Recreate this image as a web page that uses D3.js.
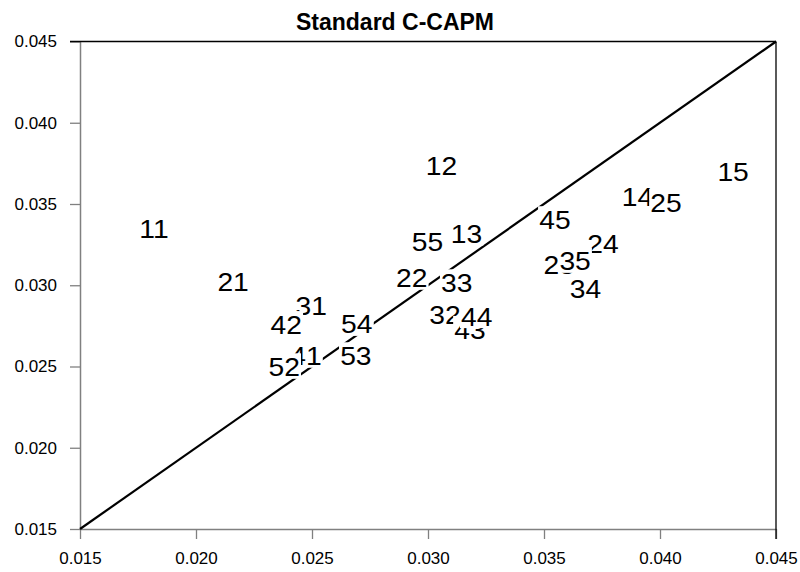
<!DOCTYPE html>
<html>
<head>
<meta charset="utf-8">
<script src="https://cdn.jsdelivr.net/npm/d3@7"></script>
<style>
  body { margin: 0; background: #fff; }
  svg { display: block; font-family: "Liberation Sans", Arial, sans-serif; }
</style>
</head>
<body>
<div id="chart"></div>
<script>
// portfolio labels with their (x, y) positions
const labels = ["11", "12", "13", "14", "15",
                "21", "22", "23", "24", "25",
                "31", "32", "33", "34", "35",
                "41", "42", "43", "44", "45",
                "52", "53", "54", "55"];
const xVals = [0.01819, 0.03058, 0.03166, 0.03903, 0.04315,
               0.02160, 0.02930, 0.03565, 0.03754, 0.04026,
               0.02497, 0.03073, 0.03124, 0.03679, 0.03634,
               0.02474, 0.02389, 0.03181, 0.03210, 0.03547,
               0.02380, 0.02689, 0.02693, 0.02998];
const yVals = [0.03349, 0.03734, 0.03315, 0.03546, 0.03694,
               0.03017, 0.03043, 0.03122, 0.03256, 0.03506,
               0.02874, 0.02820, 0.03012, 0.02978, 0.03147,
               0.02563, 0.02755, 0.02725, 0.02807, 0.03400,
               0.02495, 0.02563, 0.02759, 0.03268];
const tickVals = [0.015, 0.020, 0.025, 0.030, 0.035, 0.040, 0.045];
const tickLabels = ["0.015", "0.020", "0.025", "0.030", "0.035", "0.040", "0.045"];
const diagonal = [0.015, 0.045];

const width = 800;
const height = 572;
const mLeft = 80, mRight = 776, mTop = 41.5, mBottom = 529;

const x = d3.scaleLinear().domain([0.015, 0.045]).range([mLeft, mRight]);
const y = d3.scaleLinear().domain([0.015, 0.045]).range([mBottom, mTop]);

const svg = d3.select("#chart")
  .append("svg")
  .attr("width", width)
  .attr("height", height);

svg.append("text")
  .attr("x", 395)
  .attr("y", 30)
  .attr("text-anchor", "middle")
  .attr("font-size", 23)
  .attr("font-weight", "bold")
  .text("Standard C-CAPM");

const fmt = d => tickLabels[tickVals.indexOf(d)];

const gx = svg.append("g")
  .attr("transform", `translate(0,${mBottom})`)
  .call(d3.axisBottom(x).tickValues(tickVals).tickFormat(fmt)
    .tickSize(10).tickSizeOuter(0).tickPadding(13));

const gy = svg.append("g")
  .attr("transform", `translate(${mLeft},0)`)
  .call(d3.axisLeft(y).tickValues(tickVals).tickFormat(fmt)
    .tickSize(10).tickSizeOuter(0).tickPadding(13));

[gx, gy].forEach(g => {
  g.select(".domain").attr("stroke", "#808080").attr("stroke-width", 1.5);
  g.selectAll(".tick line").attr("stroke", "#808080").attr("stroke-width", 1.3);
  g.selectAll(".tick text")
    .attr("fill", "#000")
    .attr("font-size", 17)
    .attr("font-family", "'Liberation Sans', Arial, sans-serif");
});

// frame on top and right
svg.append("line")
  .attr("x1", mLeft - 10).attr("x2", mRight)
  .attr("y1", mTop).attr("y2", mTop)
  .attr("stroke", "#000").attr("stroke-width", 1.3);
svg.append("line")
  .attr("x1", mRight).attr("x2", mRight)
  .attr("y1", mTop).attr("y2", mBottom + 10)
  .attr("stroke", "#000").attr("stroke-width", 1.3);

// 45 degree line
svg.append("line")
  .attr("x1", x(diagonal[0])).attr("y1", y(diagonal[0]))
  .attr("x2", x(diagonal[1])).attr("y2", y(diagonal[1]))
  .attr("stroke", "#000")
  .attr("stroke-width", 2.2);

// labels with white boxes behind, drawn in order so later ones cover earlier
labels.forEach((lab, i) => {
  const g = svg.append("g")
    .attr("transform", `translate(${x(xVals[i])},${y(yVals[i])}) scale(1.13,1)`);
  const t = g.append("text")
    .attr("x", 0)
    .attr("y", 9)
    .attr("text-anchor", "middle")
    .attr("font-size", 25)
    .text(lab);
  const bb = t.node().getBBox();
  g.insert("rect", "text")
    .attr("x", bb.x - 1)
    .attr("width", bb.width + 2)
    .attr("y", -14)
    .attr("height", 25.5)
    .attr("fill", "#fff");
});
</script>
</body>
</html>
